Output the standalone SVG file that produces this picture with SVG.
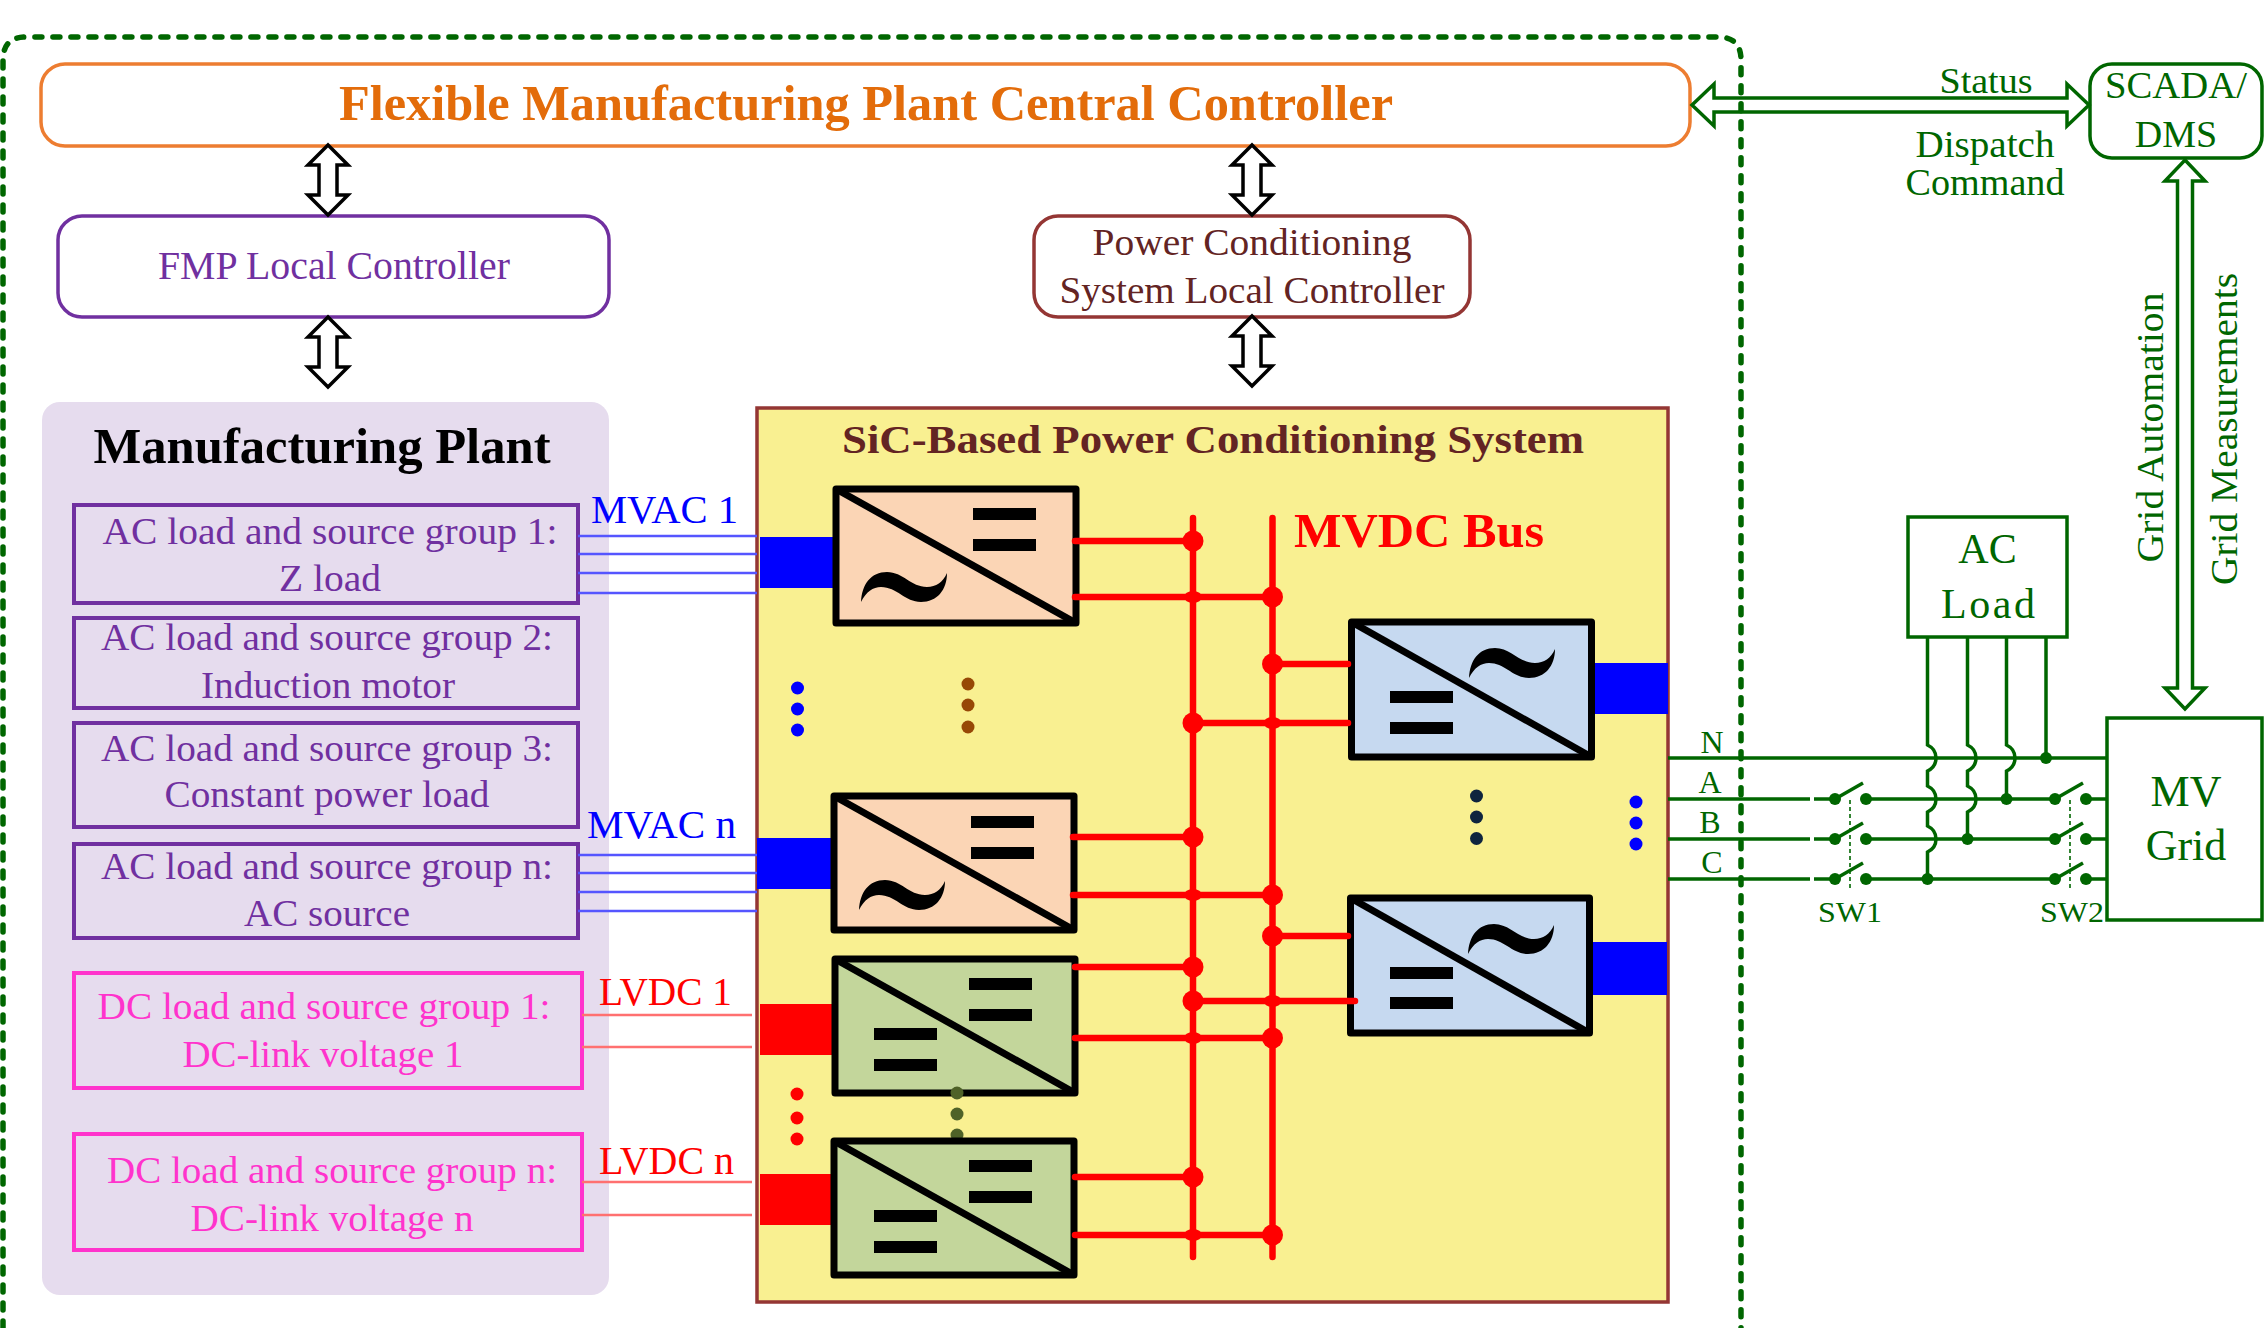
<svg xmlns="http://www.w3.org/2000/svg" width="2264" height="1328" viewBox="0 0 2264 1328">
<style>
text{font-family:"Liberation Serif","Times New Roman",serif;text-anchor:middle}
.b{font-weight:bold}
.pur{fill:#7030A0;font-size:38px}
.pnk{fill:#FF33CC;font-size:38px}
.gt{fill:#006600}
.box{fill:none;stroke-width:4}
.fr{stroke:#000;stroke-width:7;stroke-linejoin:round}
.dg{stroke:#000;stroke-width:7}
.bar{fill:#000}
.wr{stroke:#F00;stroke-width:6.5;fill:none;stroke-linecap:round}
.rd{fill:#F00}
.g{stroke:#006600;stroke-width:3.5;fill:none}
.gd{fill:#006600}
.sw{stroke:#006600;stroke-width:1.6;stroke-dasharray:4 3;fill:none}
.blu{stroke:#5555FF;stroke-width:2.6}
.lr{stroke:#FF7070;stroke-width:2.6}
.harr{fill:#fff;stroke:#000;stroke-width:3.5}
</style>
<defs>
<path id="arr" d="M0,0 L20,20 H9 V50 H20 L0,70 L-20,50 H-9 V20 H-20 Z"/>
<path id="tilde" d="M0,30 C1,12 10,0 26,0 C42,0 50,15 66,15 C75,15 82,10 86,1 C86,18 76,30 60,30 C44,30 36,15 20,15 C12,15 5,20 0,30 Z" fill="#000"/>
<rect id="b2" width="63" height="12" fill="#000"/>
<g id="sw"><circle cx="0" cy="0" r="6" class="gd"/><circle cx="31" cy="0" r="6" class="gd"/><path d="M0,0 L28,-16" class="g"/></g>
</defs>

<path id="boundary" d="M3,1328 V60 Q3,37 26,37 H1718 Q1741,37 1741,60 V1328" fill="none" stroke="#006600" stroke-width="5.5" stroke-dasharray="7 11" stroke-linecap="round"/>

<g id="central-controller">
<rect x="41" y="64" width="1649" height="82" rx="24" fill="#fff" stroke="#ED7D31" stroke-width="3.5"/>
<text x="866" y="120" class="b" font-size="50" fill="#E36C0A" textLength="1054" lengthAdjust="spacingAndGlyphs">Flexible Manufacturing Plant Central Controller</text>
</g>
<g id="fmp-local">
<rect x="58" y="216" width="551" height="101" rx="24" fill="#fff" stroke="#7030A0" stroke-width="3.5"/>
<text x="334" y="279" font-size="40" fill="#7030A0" textLength="352" lengthAdjust="spacingAndGlyphs">FMP Local Controller</text>
</g>
<g id="pcs-local">
<rect x="1034" y="216" width="436" height="101" rx="24" fill="#fff" stroke="#943634" stroke-width="3.5"/>
<text x="1252" y="255" font-size="38" fill="#632423" textLength="319" lengthAdjust="spacingAndGlyphs">Power Conditioning</text>
<text x="1252" y="303" font-size="38" fill="#632423" textLength="385" lengthAdjust="spacingAndGlyphs">System Local Controller</text>
</g>

<g id="manufacturing-plant">
<rect x="42" y="402" width="567" height="893" rx="18" fill="#E6DCEE"/>
<text x="322" y="463" class="b" font-size="50" fill="#000" textLength="457" lengthAdjust="spacingAndGlyphs">Manufacturing Plant</text>
</g>
<g id="ac-group-1"><rect x="74" y="505" width="504" height="98" class="box" stroke="#7030A0"/>
<text x="330" y="544" class="pur" textLength="455" lengthAdjust="spacingAndGlyphs">AC load and source group 1:</text>
<text x="330" y="591" class="pur" textLength="102" lengthAdjust="spacingAndGlyphs">Z load</text></g>
<g id="ac-group-2"><rect x="74" y="618" width="504" height="90" class="box" stroke="#7030A0"/>
<text x="327" y="650" class="pur" textLength="452" lengthAdjust="spacingAndGlyphs">AC load and source group 2:</text>
<text x="328" y="698" class="pur" textLength="254" lengthAdjust="spacingAndGlyphs">Induction motor</text></g>
<g id="ac-group-3"><rect x="74" y="723" width="504" height="104" class="box" stroke="#7030A0"/>
<text x="327" y="761" class="pur" textLength="452" lengthAdjust="spacingAndGlyphs">AC load and source group 3:</text>
<text x="327" y="807" class="pur" textLength="325" lengthAdjust="spacingAndGlyphs">Constant power load</text></g>
<g id="ac-group-n"><rect x="74" y="844" width="504" height="94" class="box" stroke="#7030A0"/>
<text x="327" y="879" class="pur" textLength="452" lengthAdjust="spacingAndGlyphs">AC load and source group n:</text>
<text x="327" y="926" class="pur" textLength="166" lengthAdjust="spacingAndGlyphs">AC source</text></g>
<g id="dc-group-1"><rect x="74" y="973" width="508" height="115" class="box" stroke="#FF33CC"/>
<text x="324" y="1019" class="pnk" textLength="453" lengthAdjust="spacingAndGlyphs">DC load and source group 1:</text>
<text x="323" y="1067" class="pnk" textLength="281" lengthAdjust="spacingAndGlyphs">DC-link voltage 1</text></g>
<g id="dc-group-n"><rect x="74" y="1134" width="508" height="116" class="box" stroke="#FF33CC"/>
<text x="332" y="1183" class="pnk" textLength="450" lengthAdjust="spacingAndGlyphs">DC load and source group n:</text>
<text x="332" y="1231" class="pnk" textLength="283" lengthAdjust="spacingAndGlyphs">DC-link voltage n</text></g>

<g id="pcs">
<rect x="757" y="408" width="911" height="894" fill="#F9F091" stroke="#943634" stroke-width="3.5"/>
<text x="1213" y="453" class="b" font-size="41" fill="#632423" textLength="742" lengthAdjust="spacingAndGlyphs">SiC-Based Power Conditioning System</text>
<text x="1419" y="547" class="b" font-size="49" fill="#F00" textLength="250" lengthAdjust="spacingAndGlyphs">MVDC Bus</text>
</g>

<g id="port-blocks">
<rect x="760" y="537" width="74" height="51" fill="#00F"/>
<rect x="757" y="838" width="74" height="51" fill="#00F"/>
<rect x="760" y="1004" width="73" height="51" fill="#F00"/>
<rect x="760" y="1174" width="72" height="51" fill="#F00"/>
<rect x="1595" y="663" width="73" height="51" fill="#00F"/>
<rect x="1593" y="942" width="74" height="53" fill="#00F"/>
</g>

<g id="converter-ac-1">
<rect x="836" y="489" width="240" height="134" class="fr" fill="#FBD5B5"/>
<path d="M836,489 L1076,623" class="dg"/>
<use href="#b2" x="973" y="508"/><use href="#b2" x="973" y="539"/>
<use href="#tilde" x="861" y="572"/>
</g>
<g id="converter-ac-n">
<rect x="834" y="796" width="240" height="134" class="fr" fill="#FBD5B5"/>
<path d="M834,796 L1074,930" class="dg"/>
<use href="#b2" x="971" y="816"/><use href="#b2" x="971" y="847"/>
<use href="#tilde" x="859" y="880"/>
</g>
<g id="converter-dc-1">
<rect x="835" y="959" width="240" height="134" class="fr" fill="#C3D69B"/>
<path d="M835,959 L1075,1093" class="dg"/>
<use href="#b2" x="969" y="978"/><use href="#b2" x="969" y="1009"/>
<use href="#b2" x="874" y="1028"/><use href="#b2" x="874" y="1059"/>
</g>
<g id="ellipsis-dots">
<circle cx="797.5" cy="688" r="6.5" fill="#00F"/><circle cx="797.5" cy="709" r="6.5" fill="#00F"/><circle cx="797.5" cy="730" r="6.5" fill="#00F"/>
<circle cx="968" cy="684" r="6.5" fill="#974806"/><circle cx="968" cy="705" r="6.5" fill="#974806"/><circle cx="968" cy="727" r="6.5" fill="#974806"/>
<circle cx="797" cy="1094" r="6.5" fill="#F00"/><circle cx="797" cy="1118" r="6.5" fill="#F00"/><circle cx="797" cy="1139" r="6.5" fill="#F00"/>
<circle cx="957" cy="1093" r="6.5" fill="#4F6228"/><circle cx="957" cy="1114" r="6.5" fill="#4F6228"/><circle cx="957" cy="1135" r="6.5" fill="#4F6228"/>
<circle cx="1476.5" cy="796" r="6.5" fill="#0F243E"/><circle cx="1476.5" cy="817" r="6.5" fill="#0F243E"/><circle cx="1476.5" cy="838.5" r="6.5" fill="#0F243E"/>
<circle cx="1636" cy="802" r="6.5" fill="#00F"/><circle cx="1636" cy="823" r="6.5" fill="#00F"/><circle cx="1636" cy="844" r="6.5" fill="#00F"/>
</g>
<g id="converter-dc-n">
<rect x="834" y="1141" width="240" height="134" class="fr" fill="#C3D69B"/>
<path d="M834,1141 L1074,1275" class="dg"/>
<use href="#b2" x="969" y="1160"/><use href="#b2" x="969" y="1191"/>
<use href="#b2" x="874" y="1210"/><use href="#b2" x="874" y="1241"/>
</g>
<g id="converter-mv-a">
<rect x="1351.5" y="622" width="240" height="135" class="fr" fill="#C6D9F0"/>
<path d="M1351.5,622 L1591.5,757" class="dg"/>
<use href="#tilde" x="1469" y="648"/>
<use href="#b2" x="1390" y="691"/><use href="#b2" x="1390" y="722"/>
</g>
<g id="converter-mv-b">
<rect x="1350.5" y="898" width="239" height="135" class="fr" fill="#C6D9F0"/>
<path d="M1350.5,898 L1589.5,1033" class="dg"/>
<use href="#tilde" x="1468" y="924"/>
<use href="#b2" x="1390" y="967"/><use href="#b2" x="1390" y="997"/>
</g>

<g id="ac-load">
<rect x="1908" y="517" width="159" height="120" fill="#fff" class="g"/>
<text x="1987.5" y="563" font-size="42" class="gt">AC</text>
<text x="1988" y="618" font-size="42" class="gt" textLength="94" lengthAdjust="spacing">Load</text>
</g>
<g id="mv-grid">
<rect x="2107" y="718" width="155" height="202" fill="#fff" class="g"/>
<text x="2186" y="806" font-size="44" class="gt">MV</text>
<text x="2186" y="860" font-size="44" class="gt">Grid</text>
</g>
<g id="scada">
<rect x="2090" y="64" width="172" height="94" rx="22" fill="#fff" class="g"/>
<text x="2176" y="98" font-size="38" class="gt" textLength="142" lengthAdjust="spacingAndGlyphs">SCADA/</text>
<text x="2176" y="147" font-size="38" class="gt">DMS</text>
</g>

<g id="connectors">
<use href="#arr" x="328" y="145" class="harr"/>
<use href="#arr" x="328" y="317" class="harr"/>
<use href="#arr" x="1252" y="145" class="harr"/>
<use href="#arr" x="1252" y="316" class="harr"/>

<path d="M1692,105 L1714,84 V98 H2067 V84 L2089,105 L2067,126 V112 H1714 V126 Z" fill="#fff" class="g"/>
<path d="M2185,160 L2205,181 H2192.5 V688 H2205 L2185,709 L2165,688 H2177.5 V181 H2165 Z" fill="#fff" class="g"/>

<g>
<path d="M578,536 H757M578,554 H757M578,573 H757M578,593 H757M578,855 H757M578,873 H757M578,892 H757M578,911 H757" class="blu" fill="none"/>
<path d="M582,1015 H752M582,1047 H752M582,1182 H752M582,1215 H752" class="lr" fill="none"/>
</g>

<path d="M1193,518 V1257M1272.5,518 V1257" class="wr"/>
<path d="M1075,541 H1193M1075,597 H1272.5M1073,837 H1193M1073,895 H1272.5M1075,967 H1193M1075,1038 H1272.5M1075,1177 H1193M1075,1235 H1272.5M1272.5,664 H1348M1193,723 H1348M1272.5,936 H1348M1193,1001 H1355" class="wr"/>
<g class="rd">
<circle cx="1193" cy="541" r="10.5"/><circle cx="1272.5" cy="597" r="10.5"/><circle cx="1193" cy="837" r="10.5"/><circle cx="1272.5" cy="895" r="10.5"/>
<circle cx="1193" cy="967" r="10.5"/><circle cx="1272.5" cy="1038" r="10.5"/><circle cx="1193" cy="1177" r="10.5"/><circle cx="1272.5" cy="1235" r="10.5"/>
<circle cx="1272.5" cy="664" r="10.5"/><circle cx="1193" cy="723" r="10.5"/><circle cx="1272.5" cy="936" r="10.5"/><circle cx="1193" cy="1001" r="10.5"/>
<ellipse cx="1193" cy="597" rx="9" ry="6"/><ellipse cx="1193" cy="895" rx="9" ry="6"/><ellipse cx="1193" cy="1038" rx="9" ry="6"/><ellipse cx="1193" cy="1235" rx="9" ry="6"/>
<ellipse cx="1272.5" cy="723" rx="9" ry="6"/><ellipse cx="1272.5" cy="1001" rx="9" ry="6"/>
</g>

<path d="M1668,758 H2107" class="g"/>
<path d="M1668,799 H1810M1814,799 H1835M1866,799 H2055M2086,799 H2107" class="g"/>
<path d="M1668,839 H1810M1814,839 H1835M1866,839 H2055M2086,839 H2107" class="g"/>
<path d="M1668,879 H1810M1814,879 H1835M1866,879 H2055M2086,879 H2107" class="g"/>
<path d="M1927.5,637 V745 Q1936,749 1936,758 Q1936,767 1927.5,771 V786 Q1936,790 1936,799 Q1936,808 1927.5,812 V826 Q1936,830 1936,839 Q1936,848 1927.5,852 V879" class="g"/>
<path d="M1967.5,637 V745 Q1976,749 1976,758 Q1976,767 1967.5,771 V786 Q1976,790 1976,799 Q1976,808 1967.5,812 V839" class="g"/>
<path d="M2006.5,637 V745 Q2015,749 2015,758 Q2015,767 2006.5,771 V799" class="g"/>
<path d="M2046,637 V758" class="g"/>
<g class="gd"><circle cx="1927.5" cy="879" r="6"/><circle cx="1967.5" cy="839" r="6"/><circle cx="2006.5" cy="799" r="6"/><circle cx="2046" cy="758" r="6"/></g>
</g>

<g id="sw1">
<use href="#sw" x="1835" y="799"/><use href="#sw" x="1835" y="839"/><use href="#sw" x="1835" y="879"/>
<path d="M1850,800 V889" class="sw"/>
<text x="1850" y="922" font-size="30" class="gt" textLength="64" lengthAdjust="spacingAndGlyphs">SW1</text>
</g>
<g id="sw2">
<use href="#sw" x="2055" y="799"/><use href="#sw" x="2055" y="839"/><use href="#sw" x="2055" y="879"/>
<path d="M2070,800 V889" class="sw"/>
<text x="2072" y="922" font-size="30" class="gt" textLength="64" lengthAdjust="spacingAndGlyphs">SW2</text>
</g>

<g id="labels">
<text x="664.5" y="523" font-size="40" fill="#00F" textLength="147" lengthAdjust="spacingAndGlyphs">MVAC 1</text>
<text x="661.5" y="838" font-size="40" fill="#00F" textLength="149" lengthAdjust="spacingAndGlyphs">MVAC n</text>
<text x="665.5" y="1005" font-size="40" fill="#F00" textLength="133" lengthAdjust="spacingAndGlyphs">LVDC 1</text>
<text x="666.5" y="1174" font-size="40" fill="#F00" textLength="135" lengthAdjust="spacingAndGlyphs">LVDC n</text>
<text x="1712" y="753" font-size="32" class="gt">N</text>
<text x="1710" y="793" font-size="32" class="gt">A</text>
<text x="1710" y="833" font-size="32" class="gt">B</text>
<text x="1712" y="873" font-size="32" class="gt">C</text>
<text x="1986" y="93" font-size="36" class="gt" textLength="93" lengthAdjust="spacingAndGlyphs">Status</text>
<text x="1985" y="157" font-size="38" class="gt" textLength="139" lengthAdjust="spacingAndGlyphs">Dispatch</text>
<text x="1985" y="195" font-size="38" class="gt" textLength="159" lengthAdjust="spacingAndGlyphs">Command</text>
<text transform="translate(2163,427.5) rotate(-90)" font-size="38" class="gt" textLength="270" lengthAdjust="spacingAndGlyphs">Grid Automation</text>
<text transform="translate(2237,429) rotate(-90)" font-size="38" class="gt" textLength="312" lengthAdjust="spacingAndGlyphs">Grid Measurements</text>
</g>
</svg>
